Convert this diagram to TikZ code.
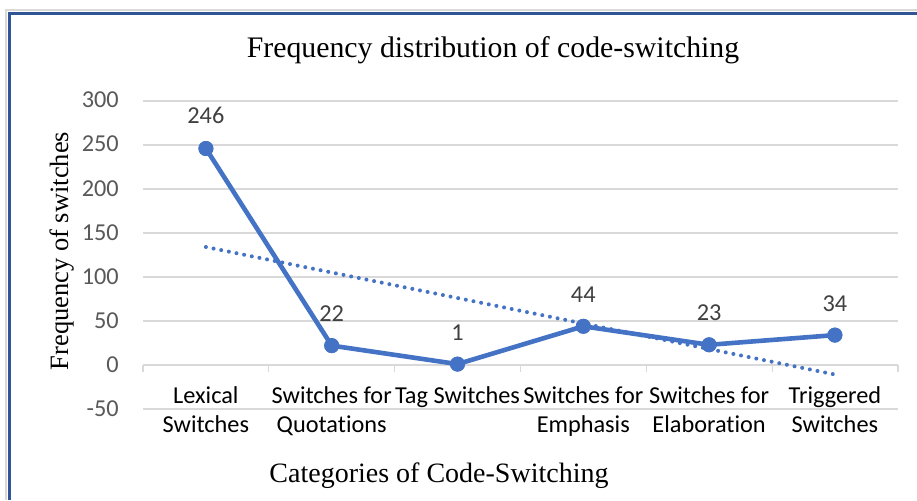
\documentclass[tikz,border=0pt]{standalone}
\usepackage{fontspec}
\setmainfont{Liberation Serif}
\newfontfamily\chartsans[Ligatures={NoCommon}]{Carlito}
\definecolor{series}{HTML}{4472C4}
\definecolor{gridgray}{HTML}{D9D9D9}
\definecolor{frameblue}{HTML}{2F5597}
\definecolor{ticktext}{HTML}{595959}
\definecolor{valtext}{HTML}{404040}

\tikzset{
  gridline/.style={draw=gridgray, line width=1.3pt},
  serieslink/.style={draw=series, line width=4.6pt, line cap=round, line join=round},
  trendlink/.style={draw=series, line width=4pt, line cap=round, dash pattern=on 0pt off 7.8pt},
  marker/.style={circle, fill=series, inner sep=0pt, minimum size=15pt},
  ticklabel/.style={font=\chartsans\fontsize{24.3}{28}\selectfont, text=ticktext, anchor=base east, inner sep=0pt},
  vallabel/.style={font=\chartsans\fontsize{24.3}{28}\selectfont, text=valtext, anchor=base, inner sep=0pt},
  catlabel/.style={font=\chartsans\fontsize{24.3}{28}\selectfont, text=black, anchor=base, inner sep=0pt},
  charttitle/.style={font=\fontsize{29.8}{34}\selectfont, anchor=base, inner sep=0pt},
  axistitle/.style={font=\fontsize{28}{32}\selectfont, anchor=base, inner sep=0pt},
}

\begin{document}
\begin{tikzpicture}[x=1pt, y=-1pt]
\useasboundingbox (0,0) rectangle (917,500);
\fill[white] (0,0) rectangle (917,500);

% chart area border (light outer rule, blue inner rule)
\draw[gridgray, line width=2.5pt] (6,500) -- (6,10) -- (917,10);
\draw[frameblue, line width=2.6pt] (9.3,500) -- (9.3,13.3) -- (917,13.3);

% horizontal gridlines and value axis labels
\foreach \v [evaluate=\v as \yy using 365-0.88*\v] in {300,250,...,-50}{
  \draw[gridline] (143,\yy) -- (898,\yy);
  \node[ticklabel] (tick\v) at (119,\yy+7) {\v};
}

% category tick marks on the zero line
\foreach \k [evaluate=\k as \xx using 143+125.83*\k] in {0,...,6}{
  \draw[gridline] (\xx,365) -- (\xx,372);
}

% category labels
\node[catlabel] (c1a) at (205.9,403) {Lexical};
\node[catlabel] (c1b) at (205.9,432) {Switches};
\node[catlabel] (c2a) at (331.7,403) {Switches for};
\node[catlabel] (c2b) at (331.7,432) {Quotations};
\node[catlabel] (c3a) at (457.5,403) {Tag Switches};
\node[catlabel] (c4a) at (583.3,403) {Switches for};
\node[catlabel] (c4b) at (583.3,432) {Emphasis};
\node[catlabel] (c5a) at (709.1,403) {Switches for};
\node[catlabel] (c5b) at (709.1,432) {Elaboration};
\node[catlabel] (c6a) at (834.9,403) {Triggered};
\node[catlabel] (c6b) at (834.9,432) {Switches};

% linear trendline
\coordinate (t1) at (205.9,247.0);
\coordinate (t6) at (834.9,374.5);
\draw[trendlink] (t1) -- (t6);

% data series
\node[marker] (p1) at (205.9,148.5) {};
\node[marker] (p2) at (331.7,345.6) {};
\node[marker] (p3) at (457.5,364.1) {};
\node[marker] (p4) at (583.3,326.3) {};
\node[marker] (p5) at (709.1,344.8) {};
\node[marker] (p6) at (834.9,335.1) {};
\draw[serieslink] (p1.center) -- (p2.center) -- (p3.center) -- (p4.center) -- (p5.center) -- (p6.center);
\foreach \i in {1,...,6}{ \fill[series] (p\i) circle (7.5pt); }

% data labels
\node[vallabel] (v1) at (205.9,124) {246};
\node[vallabel] (v2) at (331.7,321) {22};
\node[vallabel] (v3) at (457.5,340) {1};
\node[vallabel] (v4) at (583.3,302) {44};
\node[vallabel] (v5) at (709.1,320) {23};
\node[vallabel] (v6) at (834.9,311) {34};

% titles
\node[charttitle] (title) at (493,58) {Frequency distribution of code-switching};
\node[axistitle] (xtitle) at (439,482) {Categories of Code-Switching};
\node[axistitle, font=\fontsize{26.5}{30}\selectfont, rotate=90] (ytitle) at (68,251) {Frequency of switches};
\end{tikzpicture}
\end{document}
